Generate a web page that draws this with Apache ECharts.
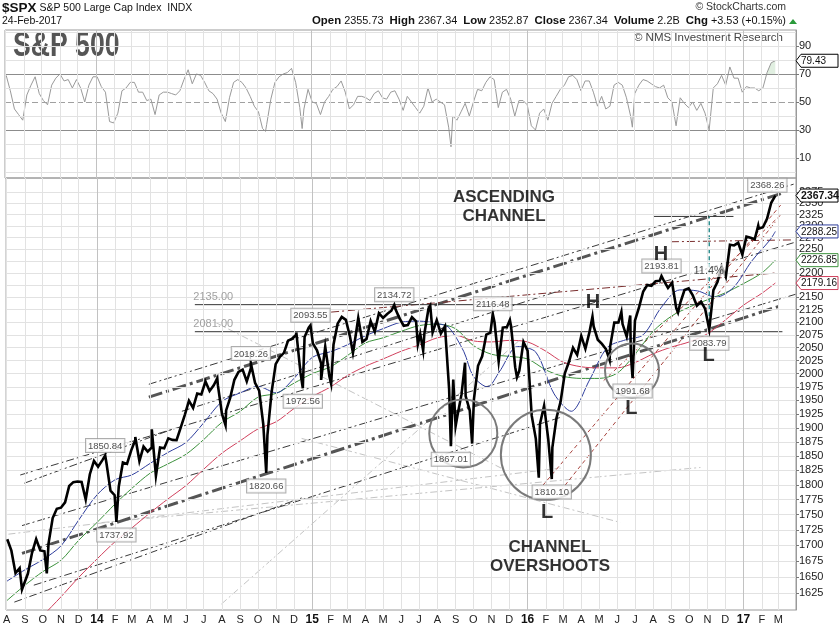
<!DOCTYPE html>
<html><head><meta charset="utf-8">
<script src="https://cdn.jsdelivr.net/npm/echarts@6/dist/echarts.min.js"></script>
<style>html,body{margin:0;padding:0;background:#fff}#c{width:839px;height:626px}</style>
</head><body><div id="c"></div>
<script>
// ---------------- DATA ----------------
const weeks = ['2013-08-02','2013-08-09','2013-08-16','2013-08-23','2013-08-30','2013-09-06','2013-09-13','2013-09-20','2013-09-27','2013-10-04','2013-10-11','2013-10-18','2013-10-25','2013-11-01','2013-11-08','2013-11-15','2013-11-22','2013-11-29','2013-12-06','2013-12-13','2013-12-20','2013-12-27',
'2014-01-03','2014-01-10','2014-01-17','2014-01-24','2014-01-31','2014-02-07','2014-02-14','2014-02-21','2014-02-28','2014-03-07','2014-03-14','2014-03-21','2014-03-28','2014-04-04','2014-04-11','2014-04-18','2014-04-25','2014-05-02','2014-05-09','2014-05-16','2014-05-23','2014-05-30','2014-06-06','2014-06-13','2014-06-20','2014-06-27','2014-07-04','2014-07-11','2014-07-18','2014-07-25','2014-08-01','2014-08-08','2014-08-15','2014-08-22','2014-08-29','2014-09-05','2014-09-12','2014-09-19','2014-09-26','2014-10-03','2014-10-10','2014-10-17','2014-10-24','2014-10-31','2014-11-07','2014-11-14','2014-11-21','2014-11-28','2014-12-05','2014-12-12','2014-12-19','2014-12-26',
'2015-01-02','2015-01-09','2015-01-16','2015-01-23','2015-01-30','2015-02-06','2015-02-13','2015-02-20','2015-02-27','2015-03-06','2015-03-13','2015-03-20','2015-03-27','2015-04-03','2015-04-10','2015-04-17','2015-04-24','2015-05-01','2015-05-08','2015-05-15','2015-05-22','2015-05-29','2015-06-05','2015-06-12','2015-06-19','2015-06-26','2015-07-03','2015-07-10','2015-07-17','2015-07-24','2015-07-31','2015-08-07','2015-08-14','2015-08-21','2015-08-28','2015-09-04','2015-09-11','2015-09-18','2015-09-25','2015-10-02','2015-10-09','2015-10-16','2015-10-23','2015-10-30','2015-11-06','2015-11-13','2015-11-20','2015-11-27','2015-12-04','2015-12-11','2015-12-18','2015-12-25',
'2016-01-01','2016-01-08','2016-01-15','2016-01-22','2016-01-29','2016-02-05','2016-02-12','2016-02-19','2016-02-26','2016-03-04','2016-03-11','2016-03-18','2016-03-25','2016-04-01','2016-04-08','2016-04-15','2016-04-22','2016-04-29','2016-05-06','2016-05-13','2016-05-20','2016-05-27','2016-06-03','2016-06-10','2016-06-17','2016-06-24','2016-07-01','2016-07-08','2016-07-15','2016-07-22','2016-07-29','2016-08-05','2016-08-12','2016-08-19','2016-08-26','2016-09-02','2016-09-09','2016-09-16','2016-09-23','2016-09-30','2016-10-07','2016-10-14','2016-10-21','2016-10-28','2016-11-04','2016-11-11','2016-11-18','2016-11-25','2016-12-02','2016-12-09','2016-12-16','2016-12-23','2016-12-30',
'2017-01-06','2017-01-13','2017-01-20','2017-01-27','2017-02-03','2017-02-10','2017-02-17','2017-02-24'];

const closes = [1709.67,1691.42,1655.83,1663.50,1632.97,1655.17,1687.99,1709.91,1691.75,1690.50,1703.20,1744.50,1759.77,1761.64,1770.61,1798.18,1804.76,1805.81,1805.09,1775.32,1818.32,1841.40,
1831.37,1842.37,1838.70,1790.29,1782.59,1797.02,1838.63,1836.25,1859.45,1878.04,1841.13,1866.52,1857.62,1865.09,1815.69,1864.85,1863.40,1881.14,1878.48,1877.86,1900.53,1923.57,1949.44,1936.16,1962.87,1960.96,1985.44,1967.57,1978.22,1978.34,1925.15,1931.59,1955.06,1988.40,2003.37,2007.71,1985.54,2010.40,1982.85,1967.90,1906.13,1886.76,1964.58,2018.05,2031.92,2039.82,2063.50,2067.56,2075.37,2002.33,2070.65,2088.77,
2058.20,2044.81,2019.42,2051.82,1994.99,2055.47,2096.99,2110.30,2104.50,2071.26,2053.40,2108.10,2061.02,2066.96,2102.06,2081.18,2117.69,2108.29,2116.10,2122.73,2126.06,2107.39,2092.83,2094.11,2109.99,2101.49,2076.78,2076.62,2126.64,2079.65,2103.84,2077.57,2091.54,1970.89,1988.87,1921.22,1961.05,1958.03,1931.34,1951.36,2014.89,2033.11,2075.15,2079.36,2099.20,2023.04,2089.17,2090.11,2091.69,2012.37,2005.55,2060.99,
2043.94,1922.03,1880.33,1906.90,1940.24,1880.05,1864.78,1917.78,1948.05,1999.99,2022.19,2049.58,2035.94,2072.78,2047.60,2080.73,2091.58,2065.30,2057.14,2046.61,2052.32,2099.06,2099.13,2096.07,2071.22,2037.41,2102.95,2129.90,2161.74,2175.03,2173.60,2182.87,2184.05,2183.87,2169.04,2179.98,2127.81,2139.16,2164.69,2168.27,2153.74,2132.98,2141.16,2126.41,2085.18,2164.45,2181.90,2213.35,2191.95,2259.53,2258.07,2263.79,2238.83,
2276.98,2274.64,2271.31,2294.69,2297.42,2316.10,2351.16,2367.34];

// intra-week highs / lows that the bars reach
const extremes = [['2013-08-27',1630.5],['2013-10-08',1655.5],['2014-01-15',1850.84],['2014-02-03',1737.92],['2014-03-07',1883.6],['2014-04-04',1897.3],['2014-04-11',1814.4],['2014-07-24',1991.4],['2014-08-07',1904.8],['2014-09-19',2019.26],['2014-10-15',1820.66],['2014-12-05',2079.5],['2014-12-16',1972.56],['2014-12-29',2093.55],['2015-01-16',1988.1],['2015-02-02',1980.9],['2015-03-11',2039.7],['2015-05-20',2134.72],['2015-06-29',2056.3],['2015-07-08',2044.0],['2015-07-20',2132.8],['2015-08-24',1867.01],['2015-09-01',1903.1],['2015-09-17',2020.9],['2015-09-29',1871.9],['2015-11-03',2116.48],['2015-12-02',2104.3],['2015-12-14',1993.3],['2016-01-20',1812.29],['2016-02-11',1810.10],['2016-04-20',2111.05],['2016-05-19',2025.9],['2016-06-08',2120.6],['2016-06-23',2113.3],['2016-06-27',1991.68],['2016-08-15',2193.81],['2016-09-12',2119.1],['2016-11-04',2083.79],['2017-01-26',2300.99],['2017-02-24',2368.26]];

const rsi = [69,58,45,41,37,55,62,68,56,51, 48,62,67,70,65,66,60,66,60,50, 62,68,68,61,57,36,35,42,58,60, 64,64,57,57,51,52,41,55,57,57,
56,55,58,66,73,63,70,69,64,58, 56,52,42,36,53,64,66,64,60,54, 47,43,31,34,52,64,68,70,71,74, 64,46,45,59,50,49,41,50,54,59,
61,65,57,45,48,54,54,53,51,56, 58,53,52,57,58,52,44,54,50,46, 42,47,60,50,52,50,48,32,40,37, 43,49,40,50,59,58,64,68,66,46,
57,59,52,40,51,51,48,33,30,42, 45,37,49,54,59,62,68,69,66,58, 65,65,57,47,54,45,47,62,64,62, 53,40,56,62,66,65,63,61,60,62,
53,50,33,53,49,46,50,44,49,42, 30,60,63,69,62,75,67,67,57,61, 60,60,58,60,71,78,79.43];
const rsiExtras = [['2014-10-15',29],['2014-12-16',31],['2015-08-25',18],['2016-06-27',32]];

const ma50 = [['2013-08-01',1643],['2013-09-01',1661],['2013-10-01',1677],['2013-11-01',1699],['2013-12-01',1741],['2014-01-01',1783],['2014-02-01',1809],['2014-03-01',1817],['2014-04-01',1837],['2014-05-01',1856],['2014-06-01',1874],['2014-07-01',1909],['2014-08-01',1948],['2014-09-01',1964],['2014-10-01',1976],['2014-11-01',1964],['2014-12-01',1991],['2015-01-01',2031],['2015-02-01',2042],['2015-03-01',2055],['2015-04-01',2073],['2015-05-01',2087],['2015-06-01',2100],['2015-07-01',2102],['2015-08-01',2097],['2015-08-20',2090],['2015-09-15',2042],['2015-10-01',1995],['2015-10-25',1975],['2015-11-15',2005],['2015-12-15',2052],['2016-01-15',2041],['2016-02-15',1962],['2016-03-15',1930],['2016-04-15',1988],['2016-05-15',2050],['2016-06-15',2065],['2016-07-15',2075],['2016-08-15',2130],['2016-09-15',2165],['2016-10-15',2163],['2016-11-15',2150],['2016-12-15',2170],['2017-01-15',2225],['2017-02-15',2270],['2017-02-24',2288.25]];
const ma100 = [['2013-08-01',1613],['2013-09-01',1637],['2013-10-01',1658],['2013-11-01',1676],['2013-12-01',1708],['2014-01-01',1737],['2014-02-01',1768],['2014-03-01',1794],['2014-04-01',1820],['2014-05-01',1836],['2014-06-01',1853],['2014-07-01',1879],['2014-08-01',1910],['2014-09-01',1930],['2014-10-01',1956],['2014-11-01',1963],['2014-12-01',1982],['2015-01-01',2000],['2015-02-01',2013],['2015-03-01',2034],['2015-04-01',2059],['2015-05-01',2069],['2015-06-01',2082],['2015-07-01',2093],['2015-08-01',2096],['2015-09-01',2087],['2015-10-01',2054],['2015-11-01',2037],['2015-12-01',2033],['2016-01-01',2028],['2016-02-01',2007],['2016-03-01',1995],['2016-04-01',1991],['2016-05-01',1991],['2016-06-01',2001],['2016-07-01',2037],['2016-08-01',2082],['2016-09-01',2112],['2016-10-01',2130],['2016-11-01',2145],['2016-12-01',2159],['2017-01-01',2178],['2017-02-01',2200],['2017-02-24',2226.85]];
const ma200 = [['2013-09-01',1562],['2013-10-01',1590],['2013-11-01',1619],['2013-12-01',1649],['2014-01-01',1678],['2014-02-01',1706],['2014-03-01',1728],['2014-04-01',1753],['2014-05-01',1776],['2014-06-01',1799],['2014-07-01',1827],['2014-08-01',1855],['2014-09-01',1877],['2014-10-01',1898],['2014-11-01',1911],['2014-12-01',1935],['2015-01-01',1957],['2015-02-01',1975],['2015-03-01',1996],['2015-04-01',2014],['2015-05-01',2028],['2015-06-01',2043],['2015-07-01',2055],['2015-08-01',2069],['2015-09-01',2074],['2015-10-01',2063],['2015-11-01',2061],['2015-12-01',2064],['2016-01-01',2061],['2016-02-01',2043],['2016-03-01',2022],['2016-04-01',2013],['2016-05-01',2011],['2016-06-01',2011],['2016-07-01',2021],['2016-08-01',2038],['2016-09-01',2051],['2016-10-01',2061],['2016-11-01',2077],['2016-12-01',2104],['2017-01-01',2134],['2017-02-01',2158],['2017-02-24',2179.16]];

const priceTicks = [1625,1650,1675,1700,1725,1750,1775,1800,1825,1850,1875,1900,1925,1950,1975,2000,2025,2050,2075,2100,2125,2150,2175,2200,2225,2250,2275,2300,2325,2350,2375];
const rsiTicks = [10,30,50,70,90];
const rsiGrid = [0,10,20,30,40,50,60,70,80,90,100];
const monthStarts = ['2013-08-01','2013-09-01','2013-10-01','2013-11-01','2013-12-01','2014-01-01','2014-02-01','2014-03-01','2014-04-01','2014-05-01','2014-06-01','2014-07-01','2014-08-01','2014-09-01','2014-10-01','2014-11-01','2014-12-01','2015-01-01','2015-02-01','2015-03-01','2015-04-01','2015-05-01','2015-06-01','2015-07-01','2015-08-01','2015-09-01','2015-10-01','2015-11-01','2015-12-01','2016-01-01','2016-02-01','2016-03-01','2016-04-01','2016-05-01','2016-06-01','2016-07-01','2016-08-01','2016-09-01','2016-10-01','2016-11-01','2016-12-01','2017-01-01','2017-02-01','2017-03-01'];
const monthLetters = ['J','F','M','A','M','J','J','A','S','O','N','D'];

// trendlines (endpoints as [date, price])
const thickLines = [[['2014-03-30',1956],['2017-03-06',2372]],[['2013-08-27',1687],['2017-03-08',2134]]];
const darkLines = [[['2014-03-30',1980],['2017-03-27',2393]],[['2013-08-24',1817],['2017-03-27',2264]],[['2013-08-31',1803],['2014-05-13',1899]],[['2013-08-27',1732],['2017-03-30',2156]],[['2013-09-16',1637],['2016-02-26',1919]],[['2013-08-14',1611],['2014-12-14',1778]],[['2014-05-25',1930],['2016-02-26',2164]]];
const grayLines = [[['2014-07-20',2100],['2015-11-17',1829]],[['2014-07-31',1608],['2015-12-21',2067]],[['2014-01-09',1737],['2016-10-20',1830]],[['2013-08-04',1718],['2016-02-26',1829]],[['2014-12-14',1881],['2016-06-07',1737]]];
const maroonLines = [[['2015-02-02',2120],['2017-02-24',2200]],[['2016-08-31',2266],['2017-03-27',2270]]];
const redLines = [[['2016-01-19',1790],['2017-03-05',2346]],[['2016-02-26',1790],['2017-02-24',2309]],[['2016-05-09',1987],['2017-03-05',2324]]];
const levelLines = [[['2014-06-16',2135],['2016-11-04',2135]],[['2014-06-16',2081],['2017-03-08',2081]],[['2016-08-02',2321],['2016-12-15',2321]]];
const levelTags = [['2014-06-16',2135.00],['2014-06-16',2081.00]];
const moveLine = [['2016-11-04',2083.79],['2016-11-04',2321]];
const pctNote = [['2016-11-03',2205,'11.4%']];

const highLabels = [['2014-01-15',1850.84],['2014-09-19',2019.26],['2014-12-29',2093.55],['2015-05-20',2134.72],['2015-11-03',2116.48],['2016-08-15',2193.81],['2017-02-24',2368.26]];
const lowLabels = [['2014-02-03',1737.92],['2014-10-15',1820.66],['2014-12-16',1972.56],['2015-08-24',1867.01],['2016-02-11',1810.10],['2016-06-27',1991.68],['2016-11-04',2083.79]];
const bigNotes = [['2015-11-22',2342,'ASCENDING\nCHANNEL'],['2016-02-08',1681,'CHANNEL\nOVERSHOOTS']];
const pivotNotes = [['2016-04-21',2140,'H'],['2016-08-14',2239,'H'],['2016-02-03',1753,'L'],['2016-06-25',1935,'L'],['2016-11-03',2034,'L']];
const overshootCircles = [['2015-09-14',1890],['2016-02-01',1852],['2016-06-26',2006]];

const quote = {symbol:'$SPX', name:'S&P 500 Large Cap Index', exch:'INDX', date:'24-Feb-2017', open:'2355.73', high:'2367.34', low:'2352.87', close:'2367.34', volume:'2.2B', chg:'+3.53', chgPct:'(+0.15%)'};

// ---------------- CHART ----------------
const FONT = '"Liberation Sans", Arial, Helvetica, sans-serif';
const T = s => Date.parse(s);
const xMin = T('2013-07-31'), xMax = T('2017-03-31');
const monthTs = monthStarts.map(T);
const circleR = [34, 45, 27];

const pricePts = weeks.map((d,i)=>[T(d), closes[i]]).concat(extremes.map(e=>[T(e[0]), e[1]])).sort((a,b)=>a[0]-b[0]);
const rsiPts = weeks.map((d,i)=>[T(d), rsi[i]]).concat(rsiExtras.map(e=>[T(e[0]), e[1]])).sort((a,b)=>a[0]-b[0]);
const rsiHot = rsiPts.slice(-3);
const P = arr => arr.map(p=>[T(p[0]), p[1]]);

const series = [];
const noLine = {opacity:0};
// gridlines
series.push({type:'line', xAxisIndex:0, yAxisIndex:0, data:[[xMin,50]], symbol:'none', lineStyle:noLine, z:0, silent:true,
  markLine:{silent:true, symbol:['none','none'], label:{show:false}, animation:false,
    data: rsiGrid.map(v=>({yAxis:v, lineStyle:{color:(v===30||v===70)?'#8c8c8c':(v===50?'#a0a0a0':'#e2e2e2'), width:1, type:v===50?[6,3]:'solid'}}))
      .concat(monthTs.map(t=>({xAxis:t, lineStyle:{color:new Date(t).getUTCMonth()===0?'#c2c2c2':'#e2e2e2', width:1, type:'solid'}})))}});
series.push({type:'line', xAxisIndex:1, yAxisIndex:1, data:[[xMin,2000]], symbol:'none', lineStyle:noLine, z:0, silent:true,
  markLine:{silent:true, symbol:['none','none'], label:{show:false}, animation:false,
    data: priceTicks.map(v=>({yAxis:v, lineStyle:{color:'#e2e2e2', width:1, type:'solid'}}))
      .concat(monthTs.map(t=>({xAxis:t, lineStyle:{color:new Date(t).getUTCMonth()===0?'#c2c2c2':'#e2e2e2', width:1, type:'solid'}})))}});

// RSI
series.push({type:'line', xAxisIndex:0, yAxisIndex:0, data:rsiHot, symbol:'none', lineStyle:noLine, areaStyle:{origin:70, color:'rgba(160,205,160,0.45)'}, z:2, silent:true});
series.push({type:'line', xAxisIndex:0, yAxisIndex:0, data:rsiPts, symbol:'none', lineStyle:{color:'#9a9a9a', width:1}, z:3, silent:true});

// trendlines
const addLines = (list, style, z) => list.forEach(l => series.push({type:'line', xAxisIndex:1, yAxisIndex:1, data:P(l), symbol:'none', lineStyle:style, z, silent:true}));
addLines(grayLines, {color:'#c4c4c4', width:1, type:[7,3,2,3]}, 2);
addLines(darkLines, {color:'#3a3a3a', width:1, type:[8,3,2,3]}, 3);
addLines(thickLines, {color:'#555', width:3, type:[14,4,3,4]}, 3);
addLines(maroonLines, {color:'#7a2e2e', width:1, type:[8,3,2,3]}, 3);
addLines(redLines, {color:'#a8453f', width:1, type:[4,3]}, 3);
addLines(levelLines, {color:'#333', width:1, type:'solid'}, 3);
series.push({type:'line', xAxisIndex:1, yAxisIndex:1, data:P(moveLine), symbol:'none', lineStyle:{color:'#2f8f8f', width:1.5, type:[4,3]}, z:4, silent:true});

// moving averages
series.push({type:'line', xAxisIndex:1, yAxisIndex:1, data:P(ma200), symbol:'none', smooth:0.3, lineStyle:{color:'#d0405c', width:1}, z:4, silent:true});
series.push({type:'line', xAxisIndex:1, yAxisIndex:1, data:P(ma100), symbol:'none', smooth:0.3, lineStyle:{color:'#3c913c', width:1}, z:4, silent:true});
series.push({type:'line', xAxisIndex:1, yAxisIndex:1, data:P(ma50), symbol:'none', smooth:0.3, lineStyle:{color:'#2e3d9c', width:1}, z:4, silent:true});

// price
series.push({type:'line', xAxisIndex:1, yAxisIndex:1, data:pricePts, symbol:'none', lineStyle:{color:'#000', width:2.6, join:'miter'}, z:6, silent:true});

// circles
series.push({type:'custom', xAxisIndex:1, yAxisIndex:1, data:P(overshootCircles), z:7, silent:true, clip:false,
  renderItem:(params, api)=>{ const c = api.coord([api.value(0), api.value(1)]); return {type:'circle', shape:{cx:c[0], cy:c[1], r:circleR[params.dataIndex]}, style:{fill:'none', stroke:'#7a7a7a', lineWidth:2}}; }});

const boxLabel = {show:true, fontSize:9.5, fontFamily:FONT, color:'#222', backgroundColor:'#fff', borderColor:'#999', borderWidth:1, padding:[2,2,1,2], formatter:p=>p.value[1].toFixed(2)};
const hidden = {color:'rgba(0,0,0,0)'};
series.push({type:'scatter', xAxisIndex:1, yAxisIndex:1, symbolSize:1, itemStyle:hidden, z:20, silent:true,
  data:P(highLabels).map((d,i,a)=>({value:d, label: i===a.length-1 ? {offset:[-8,0]} : {}})), label:Object.assign({position:'top', distance:3}, boxLabel)});
series.push({type:'scatter', xAxisIndex:1, yAxisIndex:1, symbolSize:1, itemStyle:hidden, z:20, silent:true,
  data:P(lowLabels), label:Object.assign({position:'bottom', distance:6}, boxLabel)});
series.push({type:'scatter', xAxisIndex:1, yAxisIndex:1, symbolSize:1, itemStyle:hidden, z:20, silent:true,
  data:P(levelTags), label:{show:true, position:'right', distance:0, offset:[-2,-8], fontSize:11, fontFamily:FONT, color:'#8a8a8a', formatter:p=>p.value[1].toFixed(2)}});
series.push({type:'scatter', xAxisIndex:1, yAxisIndex:1, symbolSize:1, itemStyle:hidden, z:20, silent:true,
  data:bigNotes.map(n=>({value:[T(n[0]), n[1]], name:n[2]})), label:{show:true, position:'inside', fontSize:17, fontWeight:'bold', lineHeight:19, fontFamily:FONT, color:'#000', formatter:p=>p.name}});
series.push({type:'scatter', xAxisIndex:1, yAxisIndex:1, symbolSize:1, itemStyle:hidden, z:20, silent:true,
  data:pivotNotes.map(n=>({value:[T(n[0]), n[1]], name:n[2]})), label:{show:true, position:'inside', fontSize:20, fontWeight:'bold', fontFamily:FONT, color:'#000', formatter:p=>p.name}});
series.push({type:'scatter', xAxisIndex:1, yAxisIndex:1, symbolSize:1, itemStyle:hidden, z:20, silent:true,
  data:pctNote.map(n=>({value:[T(n[0]), n[1]], name:n[2]})), label:{show:true, position:'inside', fontSize:11, fontFamily:FONT, color:'#222', backgroundColor:'rgba(255,255,255,0.85)', padding:[1,1], formatter:p=>p.name}});

const axisLab = {color:'#222', fontSize:11, fontFamily:FONT};
const plain = v => String(v);
const option = {
  animation:false,
  backgroundColor:'#fff',
  textStyle:{fontFamily:FONT},
  grid:[{left:5, top:30, width:791, height:148, show:true, borderColor:'#9a9a9a', borderWidth:1},
        {left:5, top:178, width:791, height:435, show:true, borderColor:'#9a9a9a', borderWidth:1}],
  xAxis:[
    {type:'value', gridIndex:0, min:xMin, max:xMax, axisLabel:{show:false}, axisTick:{show:false}, axisLine:{show:false}, splitLine:{show:false}},
    {type:'value', gridIndex:1, min:xMin, max:xMax, axisLine:{show:false}, axisTick:{show:false}, splitLine:{show:false},
      axisLabel:Object.assign({customValues:monthTs, margin:4, hideOverlap:false,
        formatter:(v)=>{ const d=new Date(v); const m=d.getUTCMonth(); return m===0 ? '{y|'+String(d.getUTCFullYear()).slice(2)+'}' : monthLetters[m]; },
        rich:{y:{fontWeight:'bold', fontSize:12, color:'#111', fontFamily:FONT}}}, axisLab)}
  ],
  yAxis:[
    {type:'value', gridIndex:0, position:'right', min:-4.3, max:101.4, splitLine:{show:false},
      axisLine:{show:true, lineStyle:{color:'#9a9a9a'}}, axisTick:{show:true, length:3, customValues:rsiTicks, lineStyle:{color:'#777'}},
      axisLabel:Object.assign({customValues:rsiTicks, margin:3, formatter:plain}, axisLab)},
    {type:'log', gridIndex:1, position:'right', min:1599, max:2407, splitLine:{show:false},
      axisLine:{show:true, lineStyle:{color:'#9a9a9a'}}, axisTick:{show:true, length:3, customValues:priceTicks, lineStyle:{color:'#777'}},
      axisLabel:Object.assign({customValues:priceTicks, margin:3, formatter:plain}, axisLab)}
  ],
  series
};

const chart = echarts.init(document.getElementById('c'), null, {renderer:'canvas'});
chart.setOption(option);

// value tags on the right axis and header texts
const lastOf = a => a[a.length-1];
const tags = [
  {v:lastOf(closes), g:1, c:'#000', bold:true},
  {v:lastOf(ma50)[1], g:1, c:'#2e3d9c'},
  {v:lastOf(ma100)[1], g:1, c:'#3c913c'},
  {v:lastOf(ma200)[1], g:1, c:'#d0405c'},
  {v:lastOf(rsi), g:0, c:'#000'}
];
const gfx = [];
tags.forEach((t,i)=>{
  const y = chart.convertToPixel({gridIndex:t.g}, [xMax, t.v])[1];
  gfx.push({type:'polygon', z:100, shape:{points:[[796,y],[801,y-6.5],[838,y-6.5],[838,y+6.5],[801,y+6.5]]}, style:{fill:'#fff', stroke:t.c, lineWidth:1}});
  gfx.push({type:'text', z:101, x:801, y:y+0.5, style:{text:t.v.toFixed(2), fill:'#111', font:(t.bold?'bold 10.5px ':'10px ')+FONT, verticalAlign:'middle', align:'left'}});
});
gfx.push({type:'text', x:2, y:8, style:{text:'{b|'+quote.symbol+'} '+quote.name+'  '+quote.exch, font:'10.5px '+FONT, fill:'#111', verticalAlign:'middle', rich:{b:{font:'bold 13.5px '+FONT, fill:'#111'}}}});
gfx.push({type:'text', x:2, y:21, style:{text:quote.date, font:'10.5px '+FONT, fill:'#111', verticalAlign:'middle'}});
gfx.push({type:'text', x:786, y:7, style:{text:'\u00a9 StockCharts.com', font:'10.5px '+FONT, fill:'#333', align:'right', verticalAlign:'middle'}});
gfx.push({type:'text', x:786, y:21, style:{text:'{b|Open} '+quote.open+'  {b|High} '+quote.high+'  {b|Low} '+quote.low+'  {b|Close} '+quote.close+'  {b|Volume} '+quote.volume+'  {b|Chg} '+quote.chg+' '+quote.chgPct, font:'10.9px '+FONT, fill:'#111', align:'right', verticalAlign:'middle', rich:{b:{font:'bold 11.4px '+FONT, fill:'#111'}}}});
gfx.push({type:'polygon', shape:{points:[[789,24],[797,24],[793,19]]}, style:{fill:'#2a9a3a'}});
gfx.push({type:'text', x:13, y:46, scaleX:0.76, style:{text:'S&P 500', font:'bold 35px '+FONT, fill:'#555', verticalAlign:'middle'}});
gfx.push({type:'text', x:783, y:38, style:{text:'\u00a9 NMS Investment Research', font:'11.5px '+FONT, fill:'#444', align:'right', verticalAlign:'middle'}});
chart.setOption({graphic:{elements:gfx}});
</script></body></html>
